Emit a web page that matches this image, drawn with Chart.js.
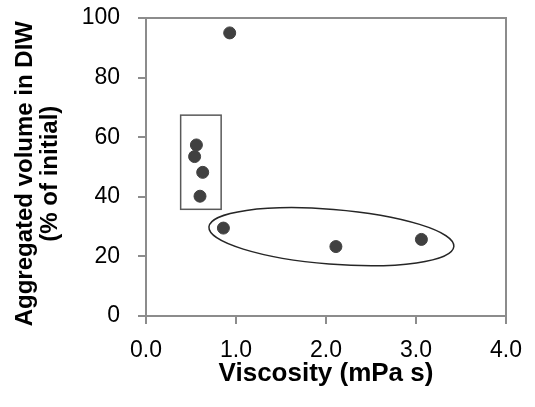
<!DOCTYPE html>
<html>
<head>
<meta charset="utf-8">
<script src="https://cdn.jsdelivr.net/npm/chart.js@4.4.0/dist/chart.umd.min.js"></script>
<style>
  html, body { margin: 0; padding: 0; background: #fff; }
  #wrap { width: 535px; height: 407px; position: relative; }
</style>
</head>
<body>
<div id="wrap"><canvas id="viscChart"></canvas></div>
<script>
// viscosity (mPa s) vs aggregated volume (% of initial)
const viscosity = [0.93, 0.56, 0.54, 0.63, 0.60, 0.86, 2.11, 3.06];
const aggVolume = [95.0, 57.4, 53.5, 48.2, 40.2, 29.5, 23.3, 25.7];
const xTicks = [0, 1, 2, 3, 4];
const yTicks = [0, 20, 40, 60, 80, 100];

// highlight shapes, in data units
const boxGroup = { x0: 0.385, x1: 0.835, y0: 35.8, y1: 67.4 };
const ellipseGroup = { cx: 2.06, cy: 26.6, rx: 1.365, ry: 9.2, tilt: 0.08 };

const axisGrey = '#8c8c8c';

const points = viscosity.map((v, i) => ({ x: v, y: aggVolume[i] }));

// frame + the two group outlines drawn over the chart
const shapesPlugin = {
  id: 'groupShapes',
  afterDatasetsDraw(chart) {
    const { ctx, chartArea: a, scales: { x, y } } = chart;
    ctx.save();
    // top + right edge of plot frame
    ctx.strokeStyle = axisGrey;
    ctx.lineWidth = 2;
    ctx.beginPath();
    ctx.moveTo(a.left, a.top);
    ctx.lineTo(a.right, a.top);
    ctx.lineTo(a.right, a.bottom);
    ctx.stroke();

    // rectangle round the low-viscosity cluster
    const bx0 = x.getPixelForValue(boxGroup.x0), bx1 = x.getPixelForValue(boxGroup.x1);
    const by0 = y.getPixelForValue(boxGroup.y0), by1 = y.getPixelForValue(boxGroup.y1);
    ctx.strokeStyle = '#595959';
    ctx.lineWidth = 1.5;
    ctx.strokeRect(bx0, by1, bx1 - bx0, by0 - by1);

    // tilted ellipse
    const cx = x.getPixelForValue(ellipseGroup.cx), cy = y.getPixelForValue(ellipseGroup.cy);
    const rx = x.getPixelForValue(ellipseGroup.cx + ellipseGroup.rx) - cx;
    const ry = cy - y.getPixelForValue(ellipseGroup.cy + ellipseGroup.ry);
    ctx.strokeStyle = '#262626';
    ctx.lineWidth = 1.5;
    ctx.beginPath();
    ctx.ellipse(cx, cy, rx, ry, ellipseGroup.tilt, 0, Math.PI * 2);
    ctx.stroke();
    ctx.restore();
  }
};

new Chart('viscChart', {
  type: 'scatter',
  data: {
    datasets: [{
      data: points,
      backgroundColor: '#404040',
      borderColor: '#404040',
      pointRadius: 6,
      pointHoverRadius: 6
    }]
  },
  options: {
    responsive: true,
    maintainAspectRatio: false,
    animation: false,
    layout: { padding: { top: 18, right: 29, left: 0, bottom: 0 } },
    plugins: { legend: { display: false }, tooltip: { enabled: false } },
    scales: {
      x: {
        type: 'linear',
        min: 0, max: 4,
        afterBuildTicks: s => { s.ticks = xTicks.map(v => ({ value: v })); },
        afterFit: s => { s.height = 91; s.paddingLeft = 0; s.paddingRight = 0; },
        ticks: {
          callback: v => v.toFixed(1),
          color: '#000',
          font: { family: 'Liberation Sans, Arial, sans-serif', size: 23 },
          padding: 13
        },
        grid: { drawOnChartArea: false, drawTicks: true, tickLength: 8, color: axisGrey, lineWidth: 2 },
        border: { color: axisGrey, width: 2 },
        title: {
          display: true,
          text: 'Viscosity (mPa s)',
          color: '#000',
          font: { family: 'Liberation Sans, Arial, sans-serif', size: 26, weight: 'bold', lineHeight: 1.2 },
          padding: { top: 0, bottom: 18 }
        }
      },
      y: {
        type: 'linear',
        min: 0, max: 100,
        afterBuildTicks: s => { s.ticks = yTicks.map(v => ({ value: v })); },
        afterFit: s => { s.width = 146; s.paddingTop = 0; s.paddingBottom = 0; },
        ticks: {
          color: '#000',
          font: { family: 'Liberation Sans, Arial, sans-serif', size: 23 },
          padding: 18
        },
        grid: { drawOnChartArea: false, drawTicks: true, tickLength: 8, color: axisGrey, lineWidth: 2 },
        border: { color: axisGrey, width: 2 },
        title: {
          display: true,
          text: ['Aggregated volume in DIW  ', '(% of initial)  '],
          color: '#000',
          font: { family: 'Liberation Sans, Arial, sans-serif', size: 24, weight: 'bold', lineHeight: 1.05 },
          padding: { top: 13, bottom: 0 }
        }
      }
    }
  },
  plugins: [shapesPlugin]
});
</script>
</body>
</html>
